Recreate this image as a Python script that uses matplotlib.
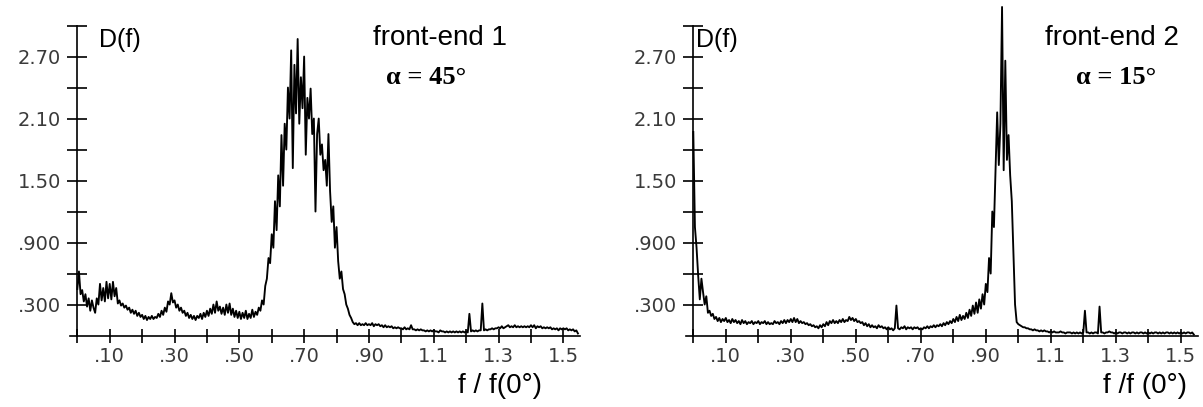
import numpy as np
import matplotlib
matplotlib.use("Agg")
import matplotlib.pyplot as plt

# D(f), one value every 0.005 in f/f(0)
d_fe1 = [
    0.45, 0.62, 0.40, 0.44, 0.33, 0.40, 0.28, 0.36, 0.24, 0.34, 0.27, 0.22, 0.36, 0.30, 0.50, 0.34, 0.46, 0.33, 0.52, 0.36,
    0.50, 0.35, 0.52, 0.38, 0.46, 0.31, 0.34, 0.29, 0.31, 0.27, 0.29, 0.25, 0.27, 0.22, 0.25, 0.21, 0.24, 0.19, 0.22, 0.18,
    0.20, 0.16, 0.19, 0.15, 0.18, 0.16, 0.19, 0.16, 0.18, 0.17, 0.21, 0.18, 0.24, 0.20, 0.27, 0.23, 0.33, 0.30, 0.41, 0.32,
    0.34, 0.27, 0.30, 0.24, 0.27, 0.22, 0.24, 0.19, 0.22, 0.17, 0.20, 0.16, 0.19, 0.15, 0.19, 0.17, 0.21, 0.16, 0.22, 0.18,
    0.24, 0.19, 0.26, 0.21, 0.30, 0.22, 0.33, 0.24, 0.28, 0.21, 0.27, 0.20, 0.30, 0.22, 0.31, 0.20, 0.26, 0.18, 0.24, 0.17,
    0.23, 0.16, 0.22, 0.17, 0.24, 0.16, 0.21, 0.17, 0.25, 0.18, 0.23, 0.20, 0.27, 0.24, 0.34, 0.30, 0.48, 0.55, 0.75, 0.70,
    0.98, 0.85, 1.30, 1.02, 1.55, 1.25, 1.94, 1.45, 2.05, 1.80, 2.40, 2.10, 2.76, 1.62, 2.62, 2.15, 2.87, 2.05, 2.50, 2.20,
    2.70, 1.75, 2.30, 2.10, 2.39, 1.95, 2.10, 1.20, 1.95, 2.10, 1.75, 1.85, 1.60, 1.70, 1.45, 1.95, 1.40, 1.10, 1.25, 0.85,
    1.05, 0.72, 0.55, 0.62, 0.45, 0.40, 0.30, 0.26, 0.20, 0.17, 0.13, 0.11, 0.12, 0.10, 0.12, 0.10, 0.11, 0.10, 0.12, 0.10,
    0.11, 0.10, 0.12, 0.09, 0.11, 0.10, 0.11, 0.09, 0.10, 0.08, 0.10, 0.08, 0.09, 0.08, 0.09, 0.07, 0.08, 0.07, 0.08, 0.07,
    0.07, 0.06, 0.08, 0.06, 0.07, 0.06, 0.10, 0.06, 0.06, 0.05, 0.06, 0.05, 0.06, 0.05, 0.05, 0.04, 0.05, 0.04, 0.05, 0.04,
    0.05, 0.04, 0.04, 0.03, 0.05, 0.04, 0.04, 0.03, 0.04, 0.03, 0.04, 0.03, 0.04, 0.03, 0.04, 0.03, 0.04, 0.03, 0.04, 0.03,
    0.04, 0.03, 0.21, 0.04, 0.05, 0.04, 0.05, 0.04, 0.05, 0.05, 0.31, 0.05, 0.06, 0.05, 0.06, 0.06, 0.07, 0.06, 0.07, 0.07,
    0.08, 0.07, 0.09, 0.07, 0.08, 0.09, 0.10, 0.08, 0.09, 0.08, 0.10, 0.08, 0.09, 0.08, 0.09, 0.08, 0.09, 0.08, 0.09, 0.08,
    0.10, 0.08, 0.10, 0.07, 0.09, 0.08, 0.09, 0.07, 0.08, 0.07, 0.08, 0.07, 0.08, 0.06, 0.07, 0.06, 0.07, 0.05, 0.07, 0.06,
    0.07, 0.06, 0.07, 0.05, 0.06, 0.05, 0.06, 0.04, 0.05, 0.02,
]

d_fe2 = [
    1.97, 1.05, 0.85, 0.58, 0.35, 0.55, 0.42, 0.30, 0.38, 0.22, 0.24, 0.19, 0.21, 0.16, 0.18, 0.14, 0.17, 0.13, 0.16, 0.14,
    0.17, 0.13, 0.15, 0.12, 0.16, 0.13, 0.15, 0.12, 0.14, 0.11, 0.15, 0.12, 0.14, 0.11, 0.13, 0.12, 0.14, 0.11, 0.13, 0.12,
    0.14, 0.11, 0.13, 0.12, 0.14, 0.11, 0.13, 0.11, 0.12, 0.11, 0.14, 0.12, 0.13, 0.11, 0.14, 0.12, 0.15, 0.12, 0.15, 0.13,
    0.16, 0.13, 0.17, 0.13, 0.16, 0.12, 0.14, 0.12, 0.13, 0.11, 0.12, 0.10, 0.11, 0.09, 0.10, 0.08, 0.09, 0.07, 0.10, 0.08,
    0.11, 0.09, 0.13, 0.10, 0.14, 0.12, 0.15, 0.12, 0.14, 0.12, 0.15, 0.13, 0.16, 0.13, 0.15, 0.14, 0.18, 0.15, 0.17, 0.14,
    0.16, 0.13, 0.14, 0.12, 0.13, 0.10, 0.12, 0.09, 0.11, 0.08, 0.10, 0.08, 0.09, 0.07, 0.10, 0.08, 0.09, 0.07, 0.08, 0.06,
    0.08, 0.06, 0.07, 0.05, 0.07, 0.29, 0.07, 0.06, 0.08, 0.07, 0.09, 0.06, 0.08, 0.07, 0.08, 0.06, 0.08, 0.07, 0.08, 0.06,
    0.07, 0.06, 0.08, 0.07, 0.09, 0.07, 0.09, 0.08, 0.10, 0.08, 0.10, 0.09, 0.11, 0.09, 0.12, 0.10, 0.13, 0.11, 0.14, 0.12,
    0.16, 0.13, 0.18, 0.14, 0.20, 0.15, 0.19, 0.16, 0.22, 0.17, 0.25, 0.19, 0.29, 0.21, 0.32, 0.22, 0.35, 0.26, 0.40, 0.30,
    0.50, 0.42, 0.75, 0.60, 1.20, 1.05, 1.60, 2.16, 1.65, 2.05, 3.18, 1.60, 2.66, 1.70, 1.94, 1.55, 1.30, 0.80, 0.30, 0.13,
    0.11, 0.10, 0.09, 0.08, 0.08, 0.07, 0.07, 0.06, 0.06, 0.05, 0.06, 0.05, 0.05, 0.04, 0.05, 0.04, 0.05, 0.04, 0.04, 0.03,
    0.04, 0.03, 0.04, 0.03, 0.03, 0.03, 0.04, 0.03, 0.03, 0.02, 0.03, 0.03, 0.03, 0.02, 0.03, 0.02, 0.03, 0.02, 0.03, 0.02,
    0.03, 0.24, 0.03, 0.03, 0.02, 0.03, 0.02, 0.03, 0.03, 0.02, 0.28, 0.03, 0.03, 0.02, 0.03, 0.03, 0.04, 0.03, 0.03, 0.02,
    0.03, 0.02, 0.03, 0.03, 0.02, 0.03, 0.03, 0.02, 0.03, 0.02, 0.03, 0.03, 0.02, 0.03, 0.02, 0.03, 0.03, 0.02, 0.03, 0.02,
    0.03, 0.02, 0.03, 0.02, 0.03, 0.03, 0.02, 0.03, 0.02, 0.03, 0.02, 0.03, 0.03, 0.02, 0.03, 0.02, 0.03, 0.02, 0.03, 0.02,
    0.03, 0.02, 0.03, 0.02, 0.03, 0.03, 0.02, 0.03, 0.01,
]

f_fe1 = np.arange(len(d_fe1)) * 0.005
f_fe2 = np.arange(len(d_fe2)) * 0.005

xtick_pos = [0.1, 0.3, 0.5, 0.7, 0.9, 1.1, 1.3, 1.5]
xtick_lab = [".10", ".30", ".50", ".70", ".90", "1.1", "1.3", "1.5"]
ytick_pos = [0.3, 0.9, 1.5, 2.1, 2.7]
ytick_lab = [".300", ".900", "1.50", "2.10", "2.70"]

W, H = 1203, 407
fig = plt.figure(figsize=(W / 100, H / 100), dpi=100)


def px(x, y):
    return x / W, 1 - y / H


def panel(rect, f, d):
    ax = fig.add_axes(rect)
    ax.plot(f, d, color="black", lw=1.35, clip_on=False)
    ax.set_xlim(-0.03, 1.56)
    ax.set_ylim(-0.05, 3.2)
    for s in ["top", "right"]:
        ax.spines[s].set_visible(False)
    ax.spines["left"].set_position(("data", 0))
    ax.spines["bottom"].set_position(("data", 0))
    ax.spines["left"].set_bounds(0, 3.0)
    ax.spines["bottom"].set_bounds(-0.022, 1.552)
    ax.spines["left"].set_linewidth(1.2)
    ax.spines["bottom"].set_linewidth(1.2)
    ax.set_xticks(xtick_pos)
    ax.set_xticklabels(xtick_lab)
    ax.set_xticks(np.arange(0, 1.51, 0.1), minor=True)
    ax.set_yticks(ytick_pos)
    ax.set_yticklabels(ytick_lab)
    ax.set_yticks([0.6, 1.2, 1.8, 2.4, 3.0], minor=True)
    ax.tick_params(axis="x", which="both", direction="inout", length=10, width=1.2,
                   labelsize=14, labelcolor="#3a3a3a", pad=3)
    ax.tick_params(axis="y", which="both", direction="inout", length=15, width=1.2,
                   labelsize=14, labelcolor="#3a3a3a", pad=4)
    ax.patch.set_alpha(0)
    return ax


ax1 = panel([67.6 / W, (H - 340.7) / H, 515.2 / W, 335.8 / H], f_fe1, d_fe1)
ax2 = panel([683.55 / W, (H - 340.7) / H, 516.75 / W, 335.8 / H], f_fe2, d_fe2)

sans = "Liberation Sans"
serif = "Liberation Serif"

fig.text(*px(99, 40), "D(f)", family=sans, fontsize=18, ha="left", va="center")
fig.text(*px(440, 38), "front-end 1", family=sans, fontsize=20, ha="center", va="center")
fig.text(*px(426, 78), "α = 45°", family=serif, fontsize=19, weight="bold", ha="center", va="center")
fig.text(*px(500, 386), "f / f(0°)", family=sans, fontsize=20, ha="center", va="center")

fig.text(*px(696, 40), "D(f)", family=sans, fontsize=18, ha="left", va="center")
fig.text(*px(1112, 38), "front-end 2", family=sans, fontsize=20, ha="center", va="center")
fig.text(*px(1116, 78), "α = 15°", family=serif, fontsize=19, weight="bold", ha="center", va="center")
fig.text(*px(1145, 386), "f /f (0°)", family=sans, fontsize=20, ha="center", va="center")

fig.savefig("out.png", dpi=100)
